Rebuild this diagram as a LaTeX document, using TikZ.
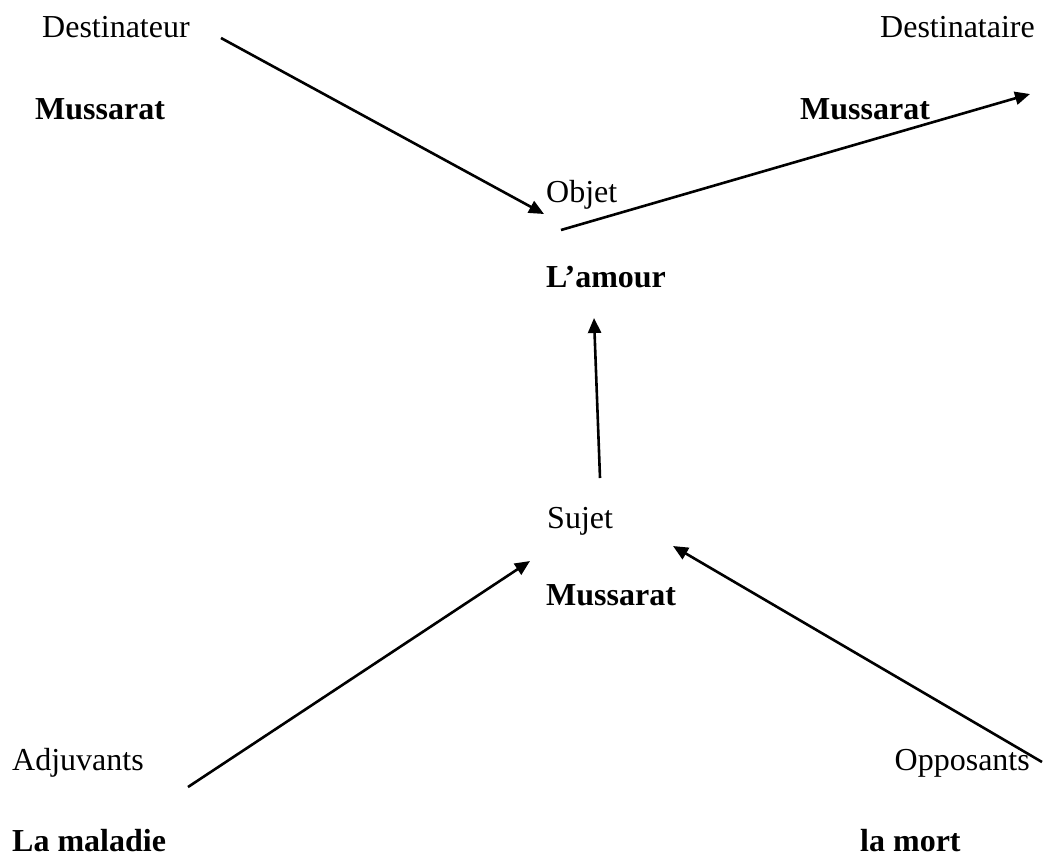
\documentclass[tikz,border=0pt]{standalone}
\usepackage{fontspec}
\setmainfont{Liberation Serif}
\usetikzlibrary{arrows.meta}
\begin{document}
\begin{tikzpicture}[x=1pt,y=-1pt,
  lbl/.style={inner sep=0pt,font=\fontsize{32}{38}\selectfont},
  boldlbl/.style={lbl,font=\fontsize{32}{38}\selectfont\bfseries},
  link/.style={line width=2.6pt,-{Triangle[length=15pt,width=13pt]}}]
\useasboundingbox (0,0) rectangle (1054,855);
% actants
\node[lbl,anchor=base west] (dest) at (42,37) {Destinateur};
\node[boldlbl,anchor=base west] (destn) at (35,119) {Mussarat};
\node[lbl,anchor=base east] (destre) at (1035,37) {Destinataire};
\node[boldlbl,anchor=base west] (destren) at (800,119) {Mussarat};
\node[lbl,anchor=base west] (obj) at (546,202) {Objet};
\node[boldlbl,anchor=base west] (objn) at (546,287) {L’amour};
\node[lbl,anchor=base west] (suj) at (547,528) {Sujet};
\node[boldlbl,anchor=base west] (sujn) at (546,605) {Mussarat};
\node[lbl,anchor=base west] (adj) at (12,770) {Adjuvants};
\node[boldlbl,anchor=base west] (adjn) at (12,851) {La maladie};
\node[lbl,anchor=base east] (opp) at (1030,770) {Opposants};
\node[boldlbl,anchor=base west] (oppn) at (860,851) {la mort};
% connector ends
\coordinate (a1) at (221,38);  \coordinate (b1) at (544,214);
\coordinate (a2) at (561,230); \coordinate (b2) at (1030,94);
\coordinate (a3) at (600,478); \coordinate (b3) at (594,318);
\coordinate (a4) at (188,787); \coordinate (b4) at (530,561);
\coordinate (a5) at (1042,762); \coordinate (b5) at (673,546);
\draw[link] (a1) -- (b1);
\draw[link] (a2) -- (b2);
\draw[link] (a3) -- (b3);
\draw[link] (a4) -- (b4);
\draw[link] (a5) -- (b5);
\end{tikzpicture}
\end{document}
